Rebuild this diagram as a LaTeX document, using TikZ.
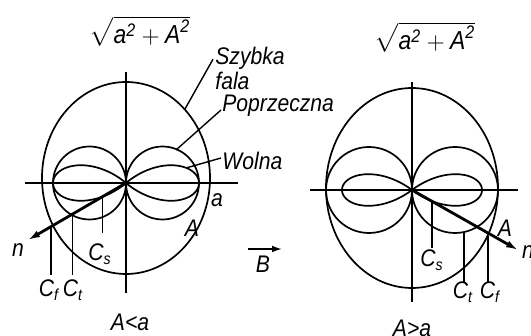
\documentclass[tikz,border=0pt]{standalone}
\usepackage{amsmath}
\usepackage{fontspec}
\setmainfont{Liberation Sans}[FakeStretch=0.88]
\usetikzlibrary{arrows.meta,positioning,calc}

\begin{document}
\begin{tikzpicture}[x=0.5pt,y=-0.5pt,font=\fontsize{12}{12.5}\selectfont\itshape,
   curve/.style={line width=0.85pt},
   axis/.style={line width=0.7pt},
   lead/.style={line width=0.7pt},
   nvec/.style={line width=1.4pt,-{Latex[length=6pt,width=3.6pt]}},
   bvec/.style={line width=0.8pt,-{Latex[length=5pt,width=3.4pt]}},
   lbl/.style={inner sep=1pt},
   root/.style={inner sep=0pt,font=\fontsize{13}{13}\selectfont}]
  \useasboundingbox (0,0) rectangle (531,336);

  % A < a
  \coordinate (O1) at (126,183);
  \draw[axis] (25,183) -- (238,183);
  \draw[axis] (126,72) -- (126,293);
  \draw[curve] (126,178) ellipse [x radius=84, y radius=96];
  \begin{scope}[shift={(O1)}]
    \foreach \s in {1,-1} {
      \draw[curve] (\s*36.5,0) circle [radius=36.5];
      \draw[curve] plot[variable=\t,domain=-40:40,samples=81]
        ({\s*73*cos(\t*90/40)*cos(\t)},{73*cos(\t*90/40)*sin(\t)});
    }
  \end{scope}
  \coordinate (N1) at (28,240);
  \draw[nvec] (O1) -- (N1);
  \node[lbl] (n1) at (18,250) {n};
  \coordinate (cs1) at ($(O1)!0.2416!(N1)$);
  \coordinate (ct1) at ($(O1)!0.5485!(N1)$);
  \coordinate (cf1) at ($(O1)!0.7637!(N1)$);
  \node[lbl] (lcs1) at (100,254) {$\textit{C}_{\textit{s}}$};
  \node[lbl] (lct1) at (73,290) {$\textit{C}_{\textit{t}}$};
  \node[lbl] (lcf1) at (49,290) {$\textit{C}_{\textit{f}}$};
  \draw[lead] (cs1) -- (cs1 |- 0,233);
  \draw[lead] (ct1) -- (ct1 |- 0,275);
  \draw[lead] (cf1) -- (cf1 |- 0,275);
  \node[lbl] (a1) at (217,200) {a};
  \node[lbl] (A1) at (192,228) {A};
  \node[lbl] (cap1) at (130,322) {A<a};
  \node[root] (r1) at (140,31) {$\sqrt{\textit{a}^{\textit{2}}+\textit{A}^{\textit{2}}}$};

  \node[lbl,anchor=north west,align=left] (szf) at (213,45) {Szybka\\fala};
  \node[lbl,anchor=west] (pop) at (220,106) {Poprzeczna};
  \node[lbl,anchor=west] (wol) at (220,161) {Wolna};
  \coordinate (p1) at (185,109);
  \coordinate (p2) at (176,150);
  \coordinate (p3) at (186,168);
  \draw[lead] (p1) -- ($(szf.north west)!0.3!(szf.south west)$);
  \draw[lead] (p2) -- ($(pop.west)+(1,4)$);
  \draw[lead] (p3) -- ($(wol.west)+(1,-3)$);

  \node[lbl] (B) at (263,264) {B};
  \draw[bvec] ($(B.center)+(-15,-15)$) -- ($(B.center)+(19,-15)$);

  % A > a
  \coordinate (O2) at (412,190);
  \draw[axis] (310,190) -- (518,190);
  \draw[axis] (412,82) -- (412,302);
  \draw[curve] (412,188) ellipse [x radius=86, y radius=100];
  \begin{scope}[shift={(O2)}]
    \foreach \s in {1,-1} {
      \draw[curve] (\s*43,0) circle [radius=43];
      \draw[curve] plot[variable=\t,domain=-37:37,samples=81]
        ({\s*70*cos(\t*90/37)*cos(\t)},{70*cos(\t*90/37)*sin(\t)});
    }
  \end{scope}
  \coordinate (N2) at (518,250);
  \draw[nvec] (O2) -- (N2);
  \node[lbl] (n2) at (528,252) {n};
  \coordinate (cs2) at (432,202);
  \coordinate (ct2) at (464,232);
  \coordinate (cf2) at (488,236);
  \node[lbl] (lcs2) at (432,260) {$\textit{C}_{\textit{s}}$};
  \node[lbl] (lct2) at (463,292) {$\textit{C}_{\textit{t}}$};
  \node[lbl] (lcf2) at (490,292) {$\textit{C}_{\textit{f}}$};
  \draw[lead] (cs2) -- (cs2 |- 0,248);
  \draw[lead] (ct2) -- (ct2 |- 0,283);
  \draw[lead] (cf2) -- (cf2 |- 0,283);
  \node[lbl] (A2) at (505,228) {A};
  \node[lbl] (cap2) at (412,328) {A>a};
  \node[root] (r2) at (425,37) {$\sqrt{\textit{a}^{\textit{2}}+\textit{A}^{\textit{2}}}$};
\end{tikzpicture}
\end{document}
